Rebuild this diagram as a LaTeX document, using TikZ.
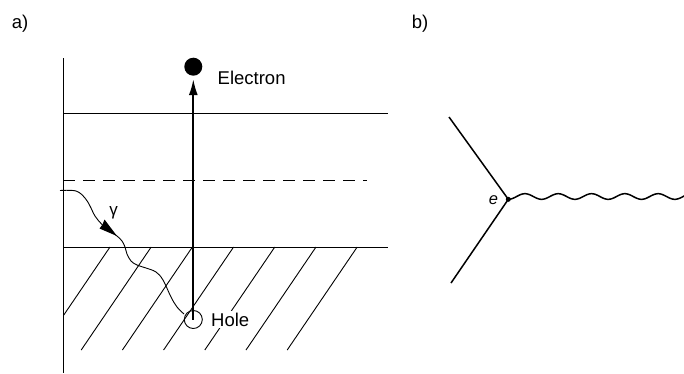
\documentclass[tikz,border=0pt]{standalone}
\usepackage{fontspec}
\setmainfont{Liberation Sans}
\usetikzlibrary{arrows.meta}
\begin{document}
\begin{tikzpicture}[x=1pt,y=-1pt,
  thinline/.style={line width=0.9pt},
  lbl/.style={font=\fontsize{18.5}{20}\selectfont, inner sep=0pt},
  particle/.style={circle, minimum size=18pt, inner sep=0pt, line width=0.9pt},
  bline/.style={line width=1.5pt}]
\useasboundingbox (0,0) rectangle (684,373);
% panel labels
\node[lbl] (la) at (20,24) {a)};
\node[lbl] (lb) at (420,24) {b)};
% ---------------- panel a ----------------
\coordinate (axtop) at (63,58);
\coordinate (axbot) at (63,373);
\draw[thinline] (axtop) -- (axbot);
\coordinate (cbL) at (63,113);  \coordinate (cbR) at (388,113);
\coordinate (dsL) at (63,180);  \coordinate (dsR) at (367,180);
\coordinate (vbL) at (63,247);  \coordinate (vbR) at (388,247);
\draw[thinline] (cbL) -- (cbR);
\draw[thinline, dash pattern=on 12pt off 8pt] (dsL) -- (dsR);
\draw[thinline] (vbL) -- (vbR);
% hatching
\begin{scope}
  \clip (63,240) rectangle (400,360);
  \foreach \i in {0,...,6}
    \draw[thinline] ({110+41.2*\i},247) -- ++(-70,103);
\end{scope}
% electron and hole
\node[particle, fill=black] (el) at (193.3,66.7) {};
\node[lbl, anchor=west] (eltxt) at (217.5,78) {Electron};
\node[lbl, anchor=west, fill=white, inner sep=2pt] (holetxt) at (209,319.5) {Hole};
\node[particle, draw] (hole) at (193.3,319.5) {};
\draw[line width=1.8pt, -{Latex[length=16pt,width=9pt]}, shorten >=3pt] (hole.center) -- (el.south);
% gamma
\coordinate (gtip) at (117,236);
\draw[thinline]
  plot[smooth, tension=0.6] coordinates {(60,190.5) (76,191) (85,198) (90,206) (95,216) (102,224.5) (110,231) (117,236) (122,241) (125,247) (127,254) (131,261) (137,265) (146,268) (156,272) (163,280) (171,297) (177,307) (184,314)};
\fill (gtip) -- (99.5,228.5) -- (102.5,224.5) -- (104.5,219.5) -- cycle;
\node[font=\fontsize{17}{17}\selectfont, inner sep=0pt] (gam) at (113.5,213) {γ};
% ---------------- panel b ----------------
\node[circle, fill=black, inner sep=0pt, minimum size=5pt] (v) at (508.3,199.3) {};
\coordinate (ua) at (449,117);
\coordinate (la2) at (451,283);
\draw[bline] (ua) -- (v.center);
\draw[bline] (la2) -- (v.center);
\draw[bline, shift={(v.center)}] plot[domain=0:182, samples=300, smooth] (\x,{-2.8+2.8*cos(\x*10.81)});
\node[font=\itshape\fontsize{16.5}{16.5}\selectfont, inner sep=0pt] (e) at (493.5,200.5) {e};
\end{tikzpicture}
\end{document}
